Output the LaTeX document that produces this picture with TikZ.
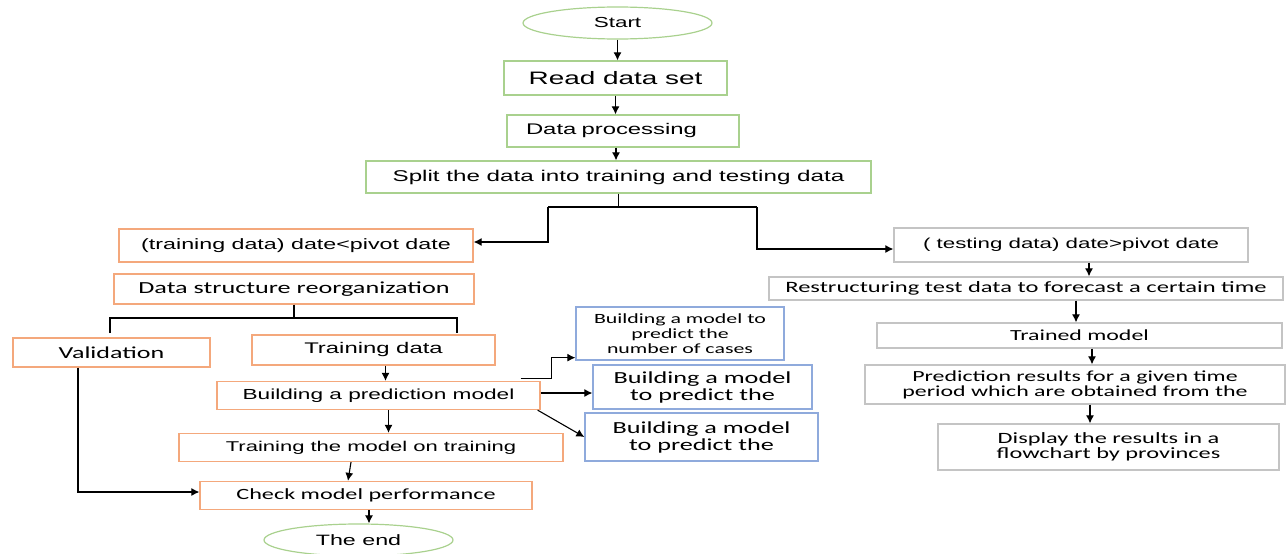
\documentclass[tikz,border=0pt]{standalone}
\usepackage{fontspec}
\setmainfont{Liberation Sans}[FakeStretch=1.55]
\newfontfamily\calfont{Carlito}[FakeStretch=1.55]
\usetikzlibrary{arrows.meta,shapes.geometric}
\definecolor{lgreen}{HTML}{A9D18E}
\definecolor{lorange}{HTML}{F4A87C}
\definecolor{lblue}{HTML}{8FAADC}
\definecolor{lgrey}{HTML}{C4C4C4}
\newcommand\fsz[2]{\fontsize{#1}{#2}\selectfont}

\begin{document}
\begin{tikzpicture}[x=1pt, y=-1pt,
  box/.style={draw, line width=1.3pt, inner sep=0pt, align=center, font=\fsz{15}{18}},
  gbox/.style={box, draw=lgreen},
  obox/.style={box, draw=lorange},
  bbox/.style={box, draw=lblue},
  wbox/.style={box, draw=lgrey},
  oval/.style={ellipse, draw=lgreen, line width=1.2pt, minimum width=189, minimum height=32, inner sep=0pt, font=\fsz{14.5}{18}},
  link/.style={line width=1.1pt},
  arr/.style={link, -{Latex[length=8pt,width=8pt]}}]
\useasboundingbox (0,0) rectangle (1286,554);

\node (start) at (617.5, 23) [oval] {Start};
\node (read) at (615.5, 78) [gbox, minimum width=223, minimum height=34, font=\fsz{18}{20}] {Read data set};
\node (proc) at (623, 131) [gbox, minimum width=232, minimum height=32, inner xsep=19, text width=194, align=left, font=\fsz{15.4}{18}] {Data processing};
\node (split) at (618.5, 177) [gbox, minimum width=505, minimum height=32, font=\fsz{15.6}{18}] {Split the data into training and testing data};

% left branch
\node (trn) at (296, 245.5) [obox, minimum width=354, minimum height=33] {(training data) date<pivot date};
\node (reorg) at (294, 289) [obox, minimum width=360, minimum height=30, font=\calfont\fsz{16.9}{18}] {Data structure reorganization};
\node (valid) at (111.5, 352.5) [obox, minimum width=197, minimum height=29, font=\calfont\fsz{16.8}{18}] {Validation};
\node (tdata) at (373.5, 350) [obox, minimum width=243, minimum height=30, font=\fsz{15.4}{18}] {Training data};
\node (build) at (378.5, 395.5) [obox, minimum width=323, minimum height=28, font=\fsz{14.6}{18}] {Building a prediction model};
\node (tmod) at (371, 447.5) [obox, minimum width=384, minimum height=28, font=\fsz{14.2}{18}] {Training the model on training};
\node (check) at (366, 495.5) [obox, minimum width=332, minimum height=28, font=\calfont\fsz{15.6}{18}] {Check model performance};
\node (theend) at (358.5, 540) [oval, font=\fsz{15}{18}] {The end};

% models
\node (m1) at (680, 333.5) [bbox, minimum width=208, minimum height=53, font=\calfont\fsz{14.1}{15}] {Building a model to\\predict the\\number of cases};
\node (m2) at (702.5, 387) [bbox, minimum width=219, minimum height=44, font=\calfont\fsz{16.9}{17}] {Building a model\\to predict the};
\node (m3) at (701.5, 437) [bbox, minimum width=233, minimum height=48, font=\calfont\fsz{16.9}{17}] {Building a model\\to predict the};

% right branch
\node (tst) at (1071, 245) [wbox, minimum width=354, minimum height=34, font=\fsz{14.4}{18}] {( testing data) date>pivot date};
\node (rstr) at (1026, 288.5) [wbox, minimum width=514, minimum height=23, font=\calfont\fsz{15.8}{18}] {Restructuring test data to forecast a certain time};
\node (trained) at (1079.5, 335.5) [wbox, minimum width=405, minimum height=25, font=\calfont\fsz{15.4}{18}] {Trained model};
\node (pred) at (1075, 384.5) [wbox, minimum width=420, minimum height=39, font=\calfont\fsz{15.4}{15}] {Prediction results for a given time\\period which are obtained from the};
\node (disp) at (1108.5, 447) [wbox, minimum width=341, minimum height=46, font=\calfont\fsz{15.7}{15}] {Display the results in a\\flowchart by provinces};

\coordinate (forkL) at (548, 207);
\coordinate (forkR) at (757, 207);
\coordinate (legL) at (110, 318);
\coordinate (legR) at (457, 318);
\coordinate (endL) at (110, 333);
\coordinate (endR) at (457, 333);

\draw[arr] (start.south) -- (start.south |- read.north);
\draw[arr] (read.south) -- (read.south |- proc.north);
\draw[arr] ([xshift=-7]proc.south) -- ([xshift=-7]proc.south |- split.north);
\draw[link] (split.south) -- (split.south |- forkL);
\draw[link] (forkL) -- (forkR);
\draw[arr] (forkL) |- ([yshift=3.5]trn.east);
\draw[arr] (forkR) |- ([yshift=-4]tst.west);

\draw[link] (reorg.south) -- (reorg.south |- legL);
\draw[link] (endL) -- (legL) -- (legR) -- (endR);
\draw[arr] ([xshift=12]tdata.south) -- ([xshift=12]tdata.south |- build.north);
\draw[arr] ([xshift=-20,yshift=2]build.north east) -- ++(31,0) |- ([yshift=3]m1.south west);
\draw[arr] ([yshift=2.5]build.east) -- ([yshift=2.5]build.east -| m2.west);
\draw[arr] ([xshift=-3]build.south east) -- (m3.west);
\draw[arr] ([xshift=10]build.south) -- ([xshift=10]build.south |- tmod.north);
\draw[arr] ([xshift=-20]tmod.south) -- ([xshift=-18]check.north);
\draw[arr] ([xshift=-33.5]valid.south) |- ([yshift=3.5]check.west);
\draw[arr] ([xshift=3]check.south) -- ([xshift=3]check.south |- theend.north);

\draw[arr] ([xshift=18]tst.south) -- ([xshift=18]tst.south |- rstr.north);
\draw[arr] ([xshift=50]rstr.south) -- ([xshift=50]rstr.south |- trained.north);
\draw[arr] ([xshift=12.5]trained.south) -- ([xshift=12.5]trained.south |- pred.north);
\draw[arr] ([xshift=15]pred.south) -- ([xshift=15]pred.south |- disp.north);
\end{tikzpicture}
\end{document}
